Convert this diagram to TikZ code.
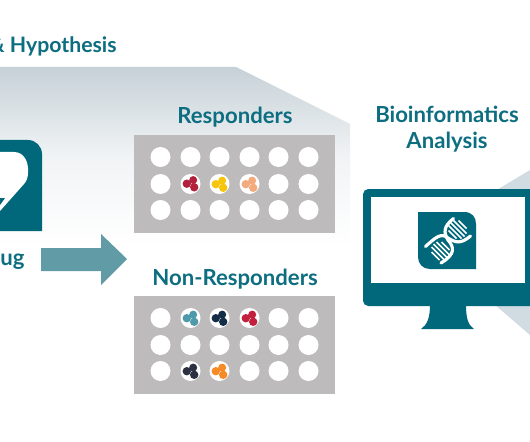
\documentclass[tikz,border=0pt]{standalone}
\usepackage{fontspec}
\setmainfont{Lato}
\usetikzlibrary{positioning}
\definecolor{petrol}{RGB}{0,104,122}
\definecolor{titleink}{RGB}{12,110,128}
\definecolor{plategray}{RGB}{189,187,187}
\definecolor{haze}{RGB}{198,209,215}
\definecolor{wedge}{RGB}{208,219,226}
\definecolor{pale}{RGB}{96,155,166}
\definecolor{wine}{RGB}{178,32,60}
\definecolor{sun}{RGB}{247,197,10}
\definecolor{peach}{RGB}{243,170,125}
\definecolor{lagoon}{RGB}{78,154,170}
\definecolor{navy}{RGB}{20,46,72}
\definecolor{crimson}{RGB}{194,32,60}
\definecolor{slate}{RGB}{44,48,64}
\definecolor{tangerine}{RGB}{245,138,38}
\tikzset{
  title/.style={font=\fontsize{12.6pt}{14pt}\selectfont\bfseries,text=titleink,anchor=base,inner sep=0pt},
  % pictograms
  pics/cells/.style={code={
    \fill[#1] (-4.2,0.2) circle (4.2);
    \fill[#1] (2.2,-3.4) circle (4);
    \fill[#1] (3.2,3.8) circle (4.2);
  }},
  pics/cells/.default=wine,
  pics/plate/.style={code={
    \fill[plategray] (-100.5,-49) rectangle (100.5,49);
    \foreach \x in {-74,-44,-15,15,44,74}
      \foreach \y in {-27,0,26}
        \fill[white] (\x,\y) circle (10);
  }},
}
\begin{document}
\begin{tikzpicture}[x=0.02cm,y=-0.02cm]
  \clip (0,0) rectangle (530,442);
  \fill[white] (0,0) rectangle (530,442);
  % backdrop
  \shade[top color=haze,bottom color=white,middle color=haze!25] (0,67) -- (236,67) -- (350,124) -- (350,245) -- (0,245) -- cycle;
  \fill[wedge] (530,170) -- (480,200) -- (480,292) -- (530,335) -- cycle;
  \node[title,font=\fontsize{12.1pt}{14pt}\selectfont\bfseries] (hypothesis) at (117,53) [anchor=base east] {\& Hypothesis};
  % drug icon
  \fill[petrol,rounded corners=8pt] (-20,140) -- (42,140) -- (42,185) [sharp corners] -- (42,231) -- (-20,231) -- cycle;
  \fill[white] (0,152) -- (14,152) .. controls (24,152) and (29,162) .. (28,173) .. controls (28,178) and (26,182) .. (24,184) -- (0,211) -- cycle;
  \fill[petrol] (0,198) -- (5,198) -- (0,205) -- cycle;
  \node[title] (drug) at (25,265) [anchor=base east] {ug};
  \fill[pale] (41,248) -- (101,248) -- (101,234) -- (127,259) -- (101,285) -- (101,271) -- (41,271) -- cycle;
  % plates
  \node[title] (responders) at (235,124) {Responders};
  \pic at (234.5,184) {plate};
  \pic at (191,183.5) {cells=wine};
  \pic at (220,184) {cells=sun};
  \pic at (250,184) {cells=peach};
  \node[title] (nonresponders) at (235,285) {Non-Responders};
  \pic at (234.5,345) {plate};
  \pic at (191,318) {cells=lagoon};
  \pic at (220,318) {cells=navy};
  \pic at (250,318) {cells=crimson};
  \pic at (191,371) {cells=slate};
  \pic at (220,371) {cells=tangerine};
  % monitor
  \node[title] (bioinformatics) at (447,123) {Bioinformatics};
  \node[title] (analysis) at (447,149) {Analysis};
  \fill[petrol,rounded corners=3pt] (363,189) rectangle (545,306);
  \fill[petrol] (430,305) -- (466,305) .. controls (466,318) and (468,325) .. (474,329) -- (421,329) .. controls (427,325) and (430,318) .. (430,305) -- cycle;
  \fill[white] (371,197) rectangle (525,283);
  \fill[petrol] (418,212) -- (464,212) .. controls (472,212) and (476,217) .. (476,224) -- (476,269) -- (430,269) .. controls (423,269) and (418,264) .. (418,257) -- cycle;
  \draw[white,line width=1.8pt,line cap=round] (453.5,218.5) .. controls (444,226) and (443,232) .. (448,240) .. controls (454,247) and (456,254) .. (441,263);
  \draw[white,line width=1.8pt,line cap=round] (470.5,236) .. controls (461,244) and (456,243) .. (448,238) .. controls (441,232) and (435,238) .. (425.5,246.5);
  \foreach \t/\r in {-4/4,-1.5/6.5,1/7,3.5/6.5,6/4}{
    \draw[white,line width=0.9pt] ({456.5+\t-\r},{230.5-\t-\r}) -- ({456.5+\t+\r},{230.5-\t+\r});
    \draw[white,line width=0.9pt] ({439.5+\t-\r},{252-\t-\r}) -- ({439.5+\t+\r},{252-\t+\r});
  }
\end{tikzpicture}
\end{document}
